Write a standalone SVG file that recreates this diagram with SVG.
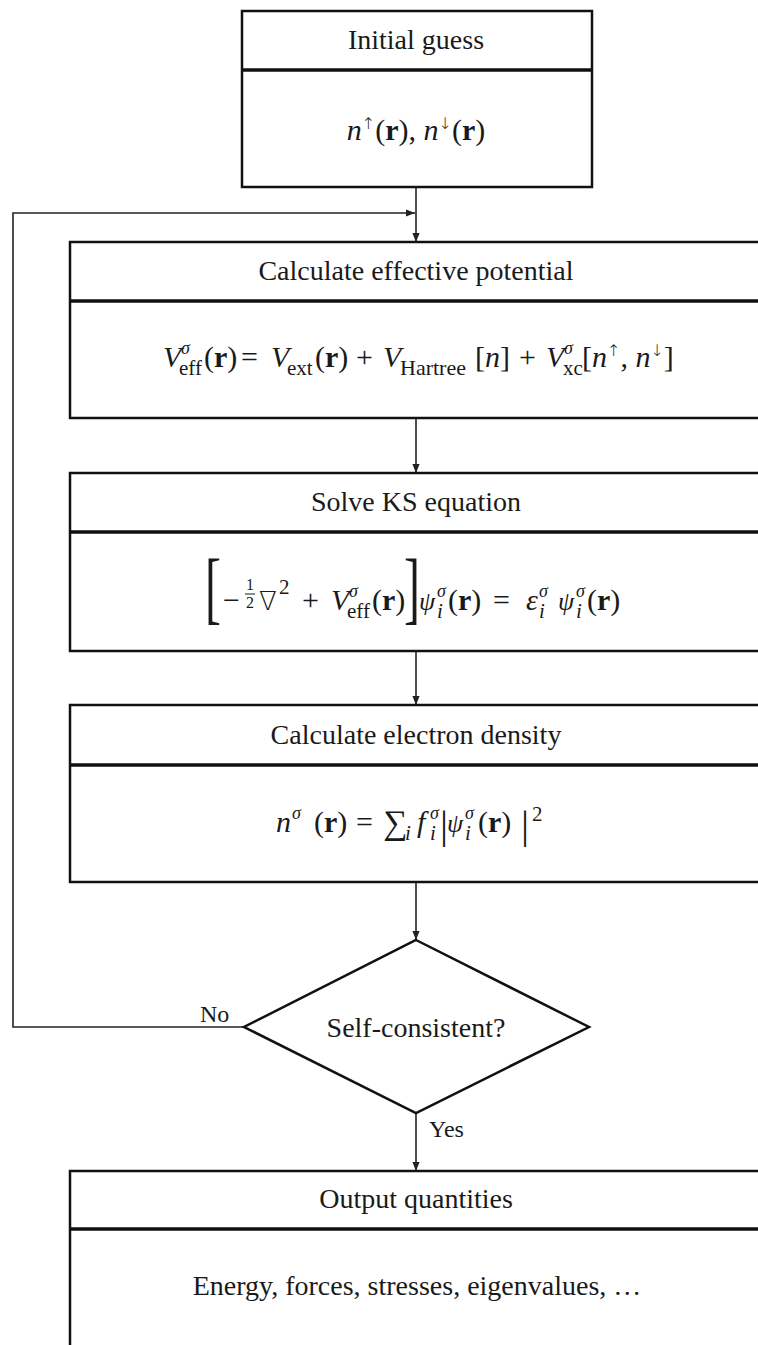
<svg xmlns="http://www.w3.org/2000/svg" width="758" height="1345" viewBox="0 0 758 1345">
<defs>
<style>
.box{fill:#fff;stroke:#111;stroke-width:2.5}
.div{stroke:#111;stroke-width:3.5}
.con{fill:none;stroke:#222;stroke-width:1.6}
.t{font-family:"Liberation Serif","Times New Roman",serif;font-size:28px;fill:#1a1a1a}
.lbl{font-family:"Liberation Serif","Times New Roman",serif;font-size:24px;fill:#1a1a1a}
.m{font-family:"Liberation Serif","Times New Roman",serif;font-size:30px;fill:#1a1a1a}
.i{font-style:italic}
.b{font-weight:bold}
.s{font-size:21px}
.g{font-size:18px}
.p{font-size:26px}
.ar{font-family:"DejaVu Sans",sans-serif;font-size:16px;font-weight:200}
.nab{font-family:"DejaVu Sans",sans-serif;font-weight:200;font-size:26px}
</style>
<marker id="ah" viewBox="0 0 10 10" refX="10" refY="5" markerWidth="9" markerHeight="9" markerUnits="userSpaceOnUse" orient="auto">
<path d="M0,1 L10,5 L0,9 Z" fill="#222"/>
</marker>
</defs>
<rect width="758" height="1345" fill="#fff"/>

<g id="connectors">
<line class="con" x1="416" y1="187" x2="416" y2="242" marker-end="url(#ah)"/>
<polyline class="con" points="244,1027 13,1027 13,213 415,213" marker-end="url(#ah)"/>
<line class="con" x1="416" y1="418" x2="416" y2="473" marker-end="url(#ah)"/>
<line class="con" x1="416" y1="651" x2="416" y2="705" marker-end="url(#ah)"/>
<line class="con" x1="416" y1="882" x2="416" y2="940" marker-end="url(#ah)"/>
<line class="con" x1="416" y1="1113" x2="416" y2="1171" marker-end="url(#ah)"/>
<text class="lbl" x="200" y="1022">No</text>
<text class="lbl" x="429" y="1137">Yes</text>
</g>

<g id="initial">
<rect class="box" x="242" y="11" width="350" height="176"/>
<line class="div" x1="242" y1="70" x2="592" y2="70"/>
<text class="t" x="416" y="49" text-anchor="middle">Initial guess</text>
<text class="m" x="416" y="140" text-anchor="middle"><tspan class="i">n</tspan><tspan class="ar" dy="-11">↑</tspan><tspan dy="11">(</tspan><tspan class="b">r</tspan><tspan>), </tspan><tspan class="i">n</tspan><tspan class="ar" dy="-11">↓</tspan><tspan dy="11">(</tspan><tspan class="b">r</tspan><tspan>)</tspan></text>
</g>

<g id="potential">
<rect class="box" x="70" y="242" width="710" height="176"/>
<line class="div" x1="70" y1="301" x2="780" y2="301"/>
<text class="t" x="416" y="280" text-anchor="middle">Calculate effective potential</text>
<text class="m"><tspan class="i" x="163" y="367">V</tspan><tspan class="i g" x="181" y="354">σ</tspan><tspan class="s" x="179" y="375">eff</tspan><tspan x="204" y="367">(</tspan><tspan class="b">r</tspan><tspan>)</tspan><tspan x="241" y="367">=</tspan><tspan class="i" x="271" y="367">V</tspan><tspan class="s" x="287" y="375">ext</tspan><tspan x="315" y="367">(</tspan><tspan class="b">r</tspan><tspan>)</tspan><tspan x="356" y="367">+</tspan><tspan class="i" x="383" y="367">V</tspan><tspan class="s" style="font-size:22px" x="400" y="375">Hartree</tspan><tspan x="475" y="367">[</tspan><tspan class="i">n</tspan><tspan>]</tspan><tspan x="519" y="367">+</tspan><tspan class="i" x="546" y="367">V</tspan><tspan class="i g" x="564" y="354">σ</tspan><tspan class="s" x="563" y="375">xc</tspan><tspan x="582" y="367">[</tspan><tspan class="i">n</tspan><tspan class="ar" dy="-11">↑</tspan><tspan dy="11">, </tspan><tspan class="i">n</tspan><tspan class="ar" dy="-11">↓</tspan><tspan dy="11">]</tspan></text>
</g>

<g id="ks">
<rect class="box" x="70" y="473" width="710" height="178"/>
<line class="div" x1="70" y1="532" x2="780" y2="532"/>
<text class="t" x="416" y="511" text-anchor="middle">Solve KS equation</text>
<text class="m" style="font-size:80px" transform="translate(205,0) scale(0.6,1)" y="614">[</text>
<text class="m" style="font-size:80px" transform="translate(404,0) scale(0.6,1)" y="614">]</text>
<text class="m"><tspan x="223" y="610">−</tspan><tspan style="font-size:16px" x="246" y="590">1</tspan><tspan style="font-size:16px" x="246" y="608">2</tspan><tspan class="nab" x="259" y="610">∇</tspan><tspan class="s" x="279" y="594">2</tspan><tspan x="302" y="610">+</tspan><tspan class="i" x="331" y="610">V</tspan><tspan class="i g" x="349" y="597">σ</tspan><tspan class="s" x="347" y="618">eff</tspan><tspan x="372" y="610">(</tspan><tspan class="b">r</tspan><tspan>)</tspan><tspan class="i p" x="419" y="610">ψ</tspan><tspan class="i g" x="437" y="597">σ</tspan><tspan class="i s" x="437" y="618">i</tspan><tspan x="448" y="610">(</tspan><tspan class="b">r</tspan><tspan>)</tspan><tspan x="493" y="610">=</tspan><tspan class="i" x="526" y="610">ε</tspan><tspan class="i g" x="539" y="597">σ</tspan><tspan class="i s" x="539" y="618">i</tspan><tspan class="i p" x="558" y="610">ψ</tspan><tspan class="i g" x="576" y="597">σ</tspan><tspan class="i s" x="576" y="618">i</tspan><tspan x="587" y="610">(</tspan><tspan class="b">r</tspan><tspan>)</tspan></text>
<line x1="245" y1="594" x2="255" y2="594" stroke="#1a1a1a" stroke-width="1"/>
</g>

<g id="density">
<rect class="box" x="70" y="705" width="710" height="177"/>
<line class="div" x1="70" y1="765" x2="780" y2="765"/>
<text class="t" x="416" y="744" text-anchor="middle">Calculate electron density</text>
<text class="m"><tspan class="i" x="276" y="832">n</tspan><tspan class="i g" x="292" y="819">σ</tspan><tspan x="314" y="832">(</tspan><tspan class="b">r</tspan><tspan>)</tspan><tspan x="356" y="832">=</tspan><tspan style="font-size:34px" x="383" y="834">∑</tspan><tspan class="i s" x="405" y="840">i</tspan><tspan class="i" x="417" y="832">f</tspan><tspan class="i g" x="430" y="819">σ</tspan><tspan class="i s" x="430" y="840">i</tspan><tspan style="font-size:40px" x="440" y="838">|</tspan><tspan class="i p" x="447" y="832">ψ</tspan><tspan class="i g" x="465" y="819">σ</tspan><tspan class="i s" x="465" y="840">i</tspan><tspan x="478" y="832">(</tspan><tspan class="b">r</tspan><tspan>)</tspan><tspan style="font-size:40px" x="521" y="838">|</tspan><tspan class="s" x="532" y="821">2</tspan></text>
</g>

<g id="decision">
<polygon class="box" points="416,940 589,1027 416,1113 244,1027"/>
<text class="t" x="416" y="1037" text-anchor="middle">Self-consistent?</text>
</g>

<g id="output">
<rect class="box" x="70" y="1171" width="710" height="200"/>
<line class="div" x1="70" y1="1229" x2="780" y2="1229"/>
<text class="t" x="416" y="1208" text-anchor="middle">Output quantities</text>
<text class="t" x="417" y="1295" text-anchor="middle">Energy, forces, stresses, eigenvalues, …</text>
</g>
</svg>
